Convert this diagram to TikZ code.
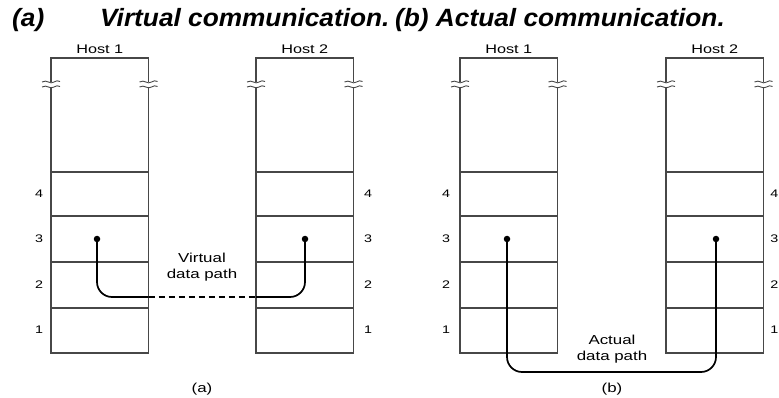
\documentclass[tikz,border=0pt]{standalone}
\usepackage{fontspec}
\setmainfont{Liberation Sans}
\newfontfamily\titlefont[FakeStretch=1.05]{Liberation Sans}
\newfontfamily\figfont[FakeStretch=1.3]{Liberation Sans}
\tikzset{
  box/.style={draw=black!72, line width=1.1pt},
  brk/.style={draw=black!72, line width=0.9pt},
  datapath/.style={draw=black, line width=1.7pt},
  dotnode/.style={circle, fill=black, inner sep=0pt, minimum size=6.5pt},
  hostlbl/.style={font=\figfont\fontsize{12.5}{14}\selectfont, inner sep=0pt},
  numlbl/.style={font=\figfont\fontsize{11}{12}\selectfont, inner sep=0pt},
  pathlbl/.style={font=\figfont\fontsize{13}{16}\selectfont, align=center, inner sep=0pt},
  titlelbl/.style={font=\titlefont\bfseries\itshape\fontsize{25}{30}\selectfont, inner sep=0pt, anchor=base west},
}
\begin{document}
\begin{tikzpicture}[x=1pt,y=-1pt]
\useasboundingbox (0,0) rectangle (779,398);
% title
\node[titlelbl] (ta) at (12,27) {(a)};
\node[titlelbl] (tv) at (100,27) {Virtual communication.};
\node[titlelbl] (tb) at (395,27) {(b) Actual communication.};
% host stacks
\foreach \xl/\lab/\nm in {51/Host 1/a1, 256/Host 2/a2, 460/Host 1/b1, 666/Host 2/b2}{
  \pgfmathsetmacro{\xr}{\xl+97.5}
  \pgfmathsetmacro{\xc}{\xl+48.75}
  \draw[box] (\xl,82) -- (\xl,58) -- (\xr,58) -- (\xr,82);
  \draw[box] (\xl,87) -- (\xl,353) -- (\xr,353) -- (\xr,87);
  \foreach \yy in {172,216,262,308} \draw[box] (\xl,\yy) -- (\xr,\yy);
  \foreach \xx in {\xl,\xr}{
    \draw[brk] (\xx-9,82) .. controls (\xx-4,79) and (\xx-1,85) .. (\xx+3,82) .. controls (\xx+5,80.5) and (\xx+7,80.5) .. (\xx+9,81.5);
    \draw[brk] (\xx-9,87) .. controls (\xx-4,84) and (\xx-1,90) .. (\xx+3,87) .. controls (\xx+5,85.5) and (\xx+7,85.5) .. (\xx+9,86.5);
  }
  \node[hostlbl] (\nm-host) at (\xc,49) {\lab};
}
% layer numbers
\foreach \n/\yy in {4/194,3/239,2/285,1/330}{
  \node[numlbl] (na\n) at (39,\yy) {\n};
  \node[numlbl] (nb\n) at (368,\yy) {\n};
  \node[numlbl] (nc\n) at (446,\yy) {\n};
  \node[numlbl, anchor=east] (nd\n) at (778.5,\yy) {\n};
}
% dots
\node[dotnode] (da) at (97,239) {};
\node[dotnode] (db) at (305,239) {};
\node[dotnode] (dc) at (507,239) {};
\node[dotnode] (dd) at (716,239) {};
% virtual path
\coordinate (ae1) at (148.5,297);
\coordinate (ae2) at (256,297);
\draw[datapath, rounded corners=15pt] (da.center) |- (ae1);
\draw[black, line width=1.5pt, dash pattern=on 6pt off 4pt] (ae1) -- (ae2);
\draw[datapath, rounded corners=15pt] (ae2) -| (db.center);
% actual path
\coordinate (bm) at (612,372);
\draw[datapath, rounded corners=15pt] (dc.center) |- (bm) -| (dd.center);
% labels
\node[pathlbl] (vlbl) at (202,267) {Virtual\\data path};
\node[pathlbl] (albl) at (612,349) {Actual\\data path};
\node[pathlbl] (capa) at (202,389) {(a)};
\node[pathlbl] (capb) at (612,389) {(b)};
\end{tikzpicture}
\end{document}
